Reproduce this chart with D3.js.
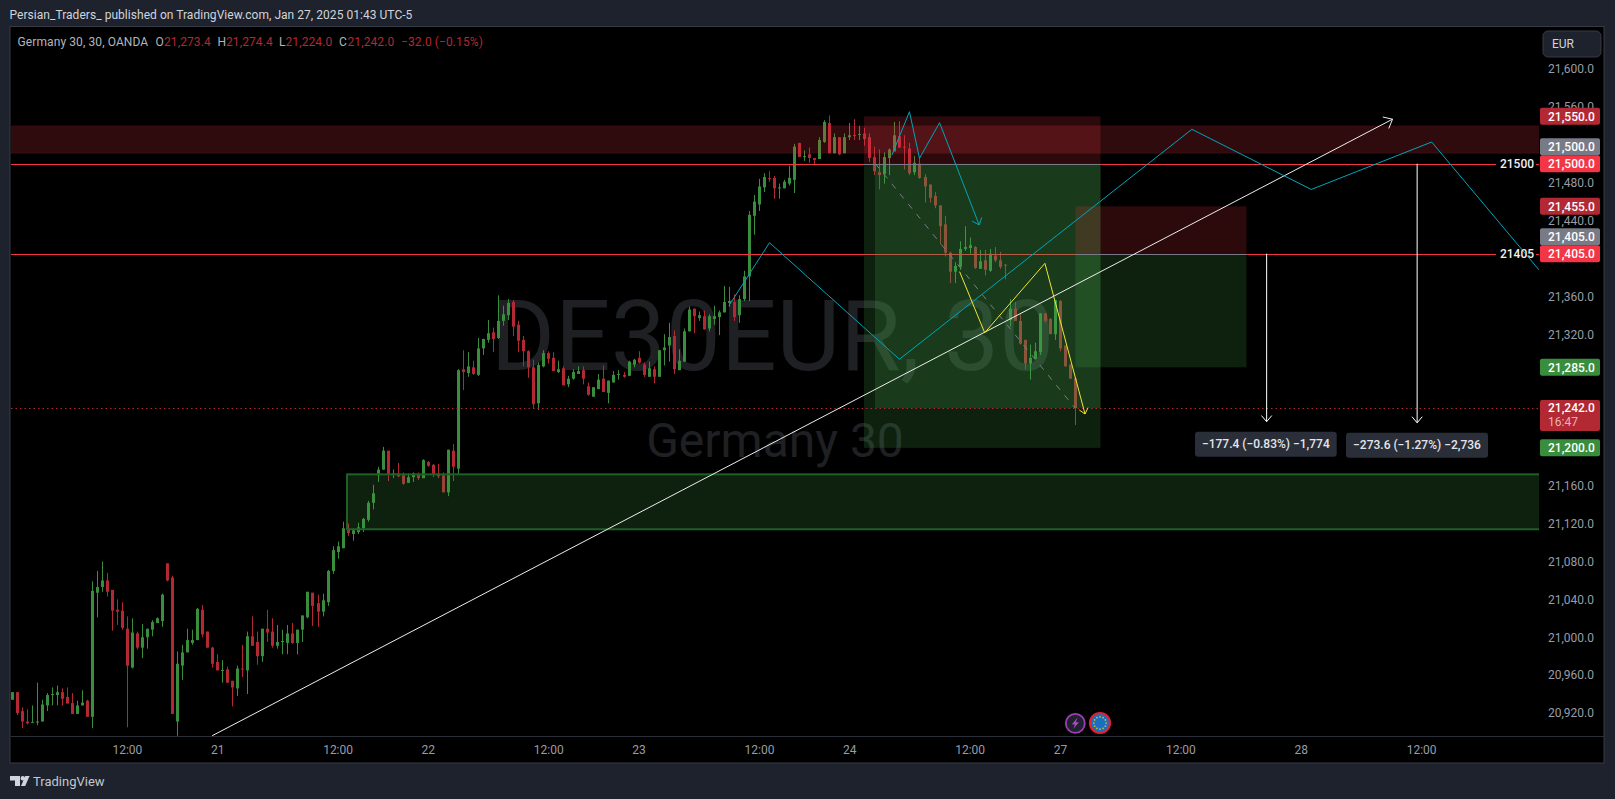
<!DOCTYPE html>
<html><head><meta charset="utf-8">
<script src="https://cdn.jsdelivr.net/npm/d3@7/dist/d3.min.js"></script>
<style>html,body{margin:0;padding:0;background:#1e222d;overflow:hidden}svg{display:block}</style>
</head><body><svg id="c" width="1615" height="799" font-family="Roboto, sans-serif"></svg>
<script>
const opens=[20934,20942,20922,20911,20910,20910.5,20911,20928,20939,20939,
20942,20937,20930.5,20919,20928,20933,20916,21047,21053,21060,
21050,21029,21028,21009,20968,21004,20989,21000,21008,21015,
21017,21078,21063,20911,20970,20984,20994,20997,21029,21006,
20989,20974,20965,20966,20954,20946,20967,20965,21001,20995,
20980,21009,21006,20991,20995,20994,21004,20994,21008,21021,
21047,21036,21027,21037,21070,21090,21094,21115,21109,21111,
21115,21124,21142,21171,21177,21197,21172,21173,21171,21163,
21169,21172,21168,21185,21182,21173,21171,21153,21197,21178,
21283,21279,21285,21277,21305,21314,21322,21316,21334,21340,
21354,21330,21314,21302,21285,21247,21286,21300,21295,21280,
21284,21267,21273,21278,21282,21265,21254,21262,21273,21258,
21269,21277,21277,21276,21288,21295,21288,21275,21283,21275,
21303,21308,21318,21282,21291,21323,21347,21337,21339,21326,
21336,21338,21343,21353,21354,21340,21357,21381,21445,21457,
21475,21485,21485,21474,21474,21479,21483,21522,21507,21510,
21506,21505,21523,21543,21511,21528,21511,21528,21530.4,21531,
21532,21528,21507,21491,21489,21506,21513,21529,21518,21516,
21491,21500,21486,21478,21466,21456,21436,21406,21386,21391,
21410,21411,21412,21389,21398,21387,21403,21398,21393.4,21335,
21347,21334,21314,21289,21294,21301,21342,21336,21320,21355,
21308,21288,21273.4];
const highs=[20942,20942,20926,20924,20928,20952,20934,20941,20947,20949,
20946,20947,20941,20933,20944,20934,21059,21070,21080,21068,
21050,21040,21037,21022,21020,21006,21014,21009,21018,21021,
21046,21078,21065,20985,20992,21009,21008,21031,21034,21006,
20990,20982,20976,20969,20954,20970,20992,21006,21022,21006,
21009,21029,21020,21013,21008,21013,21015,21008,21023,21048,
21047,21045,21046,21071,21096,21101,21122,21120,21115,21121,
21126,21144,21161,21180,21201,21197,21177,21184,21174,21173,
21174,21174,21188,21186,21183,21183,21174,21198,21204,21283,
21303,21301,21292,21316,21315,21335,21327,21361,21350,21357,
21356,21334,21318,21303,21293,21290,21303,21302,21301,21292,
21286,21276,21283,21286,21286,21269,21264,21278,21287,21271,
21281,21282,21280,21292,21294,21302,21290,21291,21286,21303,
21320,21332,21324,21304,21326,21349,21347,21344,21345,21341,
21350,21345,21371,21370,21362,21361,21387,21450,21467,21484,
21490,21492,21487,21479,21483,21498,21521,21522,21514,21517,
21506,21528,21546,21551,21532,21528,21532,21543,21547,21540,
21538,21532,21518,21515,21512,21516,21544,21545,21530,21522,
21508,21507,21489,21478,21470,21456,21445,21407,21396,21418,
21434,21422,21413,21409,21409,21410,21412,21407,21394,21357,
21354,21341,21314,21309,21311,21342,21342,21337,21356,21356,
21308,21288,21274.4];
const lows=[20934,20918,20904,20908,20910,20907,20911,20922,20928,20928,
20928,20930,20919,20919,20928,20916,20904,21021,21048,21043,
21007,21013,21008,20905,20967,20987,20978,20988,21001,21015,
21011,21059,20919,20896,20955,20984,20992,20997,21000,20989,
20968,20965,20952,20952,20927,20938,20958,20940,20991,20971,
20974,20995,20989,20988,20982,20982,20993,20982,20995,21020,
21012,21011,21022,21033,21067,21083,21094,21107,21102,21109,
21111,21122,21135,21164,21177,21165,21168,21169,21161,21163,
21164,21166,21168,21180,21169,21168,21153,21149,21165,21172,
21261,21275,21277,21276,21298,21311,21301,21315,21329,21335,
21318,21301,21286,21274,21242,21240,21285,21289,21281,21279,
21266,21264,21272,21278,21267,21255,21254,21262,21259,21247,
21269,21272,21274,21276,21285,21289,21275,21275,21268,21275,
21287,21291,21278,21282,21291,21323,21321,21334,21325,21323,
21330,21319,21343,21349,21334,21332,21355,21355,21425,21450,
21470,21481,21463,21463,21474,21477,21469,21507,21503,21501,
21499,21505,21522,21511,21511,21509,21511,21525,21525,21525,
21519,21502,21488,21473,21479,21488,21513,21517,21494,21488,
21488,21484,21459,21459,21453,21415,21402,21374,21374,21388,
21408,21405,21389,21389,21382,21386,21396,21389,21378,21328,
21334,21309,21283,21272,21294,21298,21332,21320,21314,21302,
21286,21273,21224];
const closes=[20942,20920,20911,20909,20910.4,20911,20929,20939,20940,20942,
20935,20930,20919,20928,20931,20916,21049,21053,21060,21048,
21028,21027,21010,20970,21005,20989,21000,21009,21016,21020,
21045,21060,20919,20972,20984,20997,20997,21030,21003,20989,
20972,20965,20965.4,20952,20947,20967,20966,21001,20991,20980,
21009,21005,20991,20995,20996,21004,20994,21008,21023,21048,
21033,21027,21039,21070,21092,21096,21115,21110,21113,21116,
21125,21142,21152,21177,21197,21172,21173,21170,21162,21169,
21173,21168,21187,21181,21172,21170,21153,21198,21180,21282,
21280,21286,21278,21305,21315,21321,21315,21334,21341,21353,
21328,21313,21302,21285,21246,21287.5,21300,21294,21281,21283,
21266,21273,21280,21281,21273,21256,21264,21272,21259,21271,
21277,21278,21275,21291,21293,21290,21277,21284,21275,21303,
21306,21317,21283,21292,21323,21346,21339,21340,21325,21339,
21339,21343,21354,21355,21338,21357,21381,21446,21460,21476,
21486,21484,21474,21475,21481,21485,21518,21507,21508,21506,
21504,21525,21544,21511,21528,21510,21528,21530,21530,21531.4,
21526,21506,21492,21488,21507,21515,21530,21517,21517,21490,
21501,21485,21476,21464,21456,21434,21406,21386,21392,21410,
21412,21414,21390,21397,21388,21405,21398,21391,21393,21347,
21334,21310,21289,21295,21302,21342,21334,21320,21356,21305,
21286,21273,21242];
const priceTicks=[21600,21560,21480,21440,21360,21320,21160,21120,21080,21040,21000,20960,20920];
const timeBars=[23,41,65,83,107,125,149,167,191,209,233,257,281];
const timeLabels=["12:00","21","12:00","22","12:00","23","12:00","24","12:00","27","12:00","28","12:00"];
const hLevels=[21500,21405];
const lastPrice=21242;
const resistBand=[21540,21511];
const supportBand=[21172,21114];
const cyanOne=[[143,21350],[151.1,21416.6],[177,21293.5],[235.3,21536.3],[259.1,21472.8],[283.1,21522.9],[304.5,21387.8]];
const cyanTwo=[[175.5,21509.2],[179,21554.9],[181,21505.7],[185,21543.3],[192.9,21435.3]];
const yellowPath=[[189,21386],[194,21321.5],[206,21394.8],[214,21235.7]];
const dashedPath=[[172.2,21500],[212,21242]];
const trendLine=[[40,20896],[275.3,21547]];
const measure=[{bar:250.2,from:21405,to:21227.6,text:"\u2212177.4 (\u22120.83%) \u22121,774"},{bar:280.2,from:21500,to:21226.4,text:"\u2212273.6 (\u22121.27%) \u22122,736"}];
const tagValues=[21550,21500,21500,21455,21405,21405,21285,21200];
const tagKinds=["dred","grey","red","dred","grey","red","green","green"];
const tagShift=[0,-17,0,0,-17,0,0,0];

const W=1615,H=799,pL=11,pR=1539,pT=27,pB=736;
const x=d3.scaleLinear().domain([0,212]).range([11.5,1075]);
const y=d3.scaleLinear().domain([21600,20920]).range([69,713]);
const C={bg:"#1e222d",up:"#388e3c",dn:"#b22833",red:"#f23645",grey:"#787b86",cyan:"#00a5bb",yel:"#f2e335",tick:"#999ca5",white:"#eceded"};
const svg=d3.select("#c");
svg.append("rect").attr("width",W).attr("height",H).attr("fill",C.bg);
svg.append("rect").attr("x",10).attr("y",26.5).attr("width",1594).attr("height",736.5).attr("fill","#000").attr("stroke","#363a45").attr("stroke-width",1);
svg.append("defs").append("clipPath").attr("id","plot").append("rect").attr("x",pL).attr("y",pT).attr("width",pR-pL).attr("height",pB-pT);
svg.append("text").attr("x",9.5).attr("y",19).attr("font-size",12).attr("letter-spacing",0.04).attr("fill","#d1d4dc").text("Persian_Traders_ published on TradingView.com, Jan 27, 2025 01:43 UTC-5");

const plot=svg.append("g").attr("clip-path","url(#plot)");
plot.append("text").attr("x",772.5).attr("y",370).attr("text-anchor","middle").attr("font-size",98).attr("fill","#1f2023").text("DE30EUR, 30");
plot.append("text").attr("x",775).attr("y",457).attr("text-anchor","middle").attr("font-size",48).attr("fill","#1f2023").text("Germany 30");

const idx=d3.range(opens.length);
const isUp=i=>closes[i]>=opens[i];
const cg=plot.append("g");
cg.selectAll("rect.w").data(idx).join("rect").attr("class","w").attr("x",i=>Math.round(x(i))).attr("width",1)
 .attr("y",i=>y(highs[i])).attr("height",i=>Math.max(1,y(lows[i])-y(highs[i]))).attr("fill",i=>isUp(i)?C.up:C.dn);
cg.selectAll("rect.b").data(idx).join("rect").attr("class","b").attr("x",i=>Math.round(x(i))-1).attr("width",3)
 .attr("y",i=>y(Math.max(opens[i],closes[i]))).attr("height",i=>Math.max(1,Math.abs(y(opens[i])-y(closes[i])))).attr("fill",i=>isUp(i)?C.up:C.dn);

const GF="rgba(70,165,75,0.2)",RF="rgba(242,54,69,0.18)";
function box(b0,b1,p0,p1,fill,stroke,sw){const r=plot.append("rect").attr("x",x(b0)).attr("width",x(b1)-x(b0)).attr("y",y(p0)).attr("height",y(p1)-y(p0)).attr("fill",fill);if(stroke)r.attr("stroke",stroke).attr("stroke-width",sw||1);return r;}
const xR=x.invert(pR+2);
box(x.invert(pL-2),xR,resistBand[0],resistBand[1],"rgba(242,54,69,0.2)","rgba(242,54,69,0.1)",1);
box(x.invert(347),xR,supportBand[0],supportBand[1],GF,"#1f6124",2);
hLevels.forEach(v=>{
  const ly=Math.round(y(v))+.5;
  plot.append("line").attr("x1",pL).attr("x2",1496).attr("y1",ly).attr("y2",ly).attr("stroke",C.red);
  plot.append("line").attr("x1",1536).attr("x2",pR).attr("y1",ly).attr("y2",ly).attr("stroke",C.red);
});
const p1a=x.invert(864),p1b=x.invert(1100.5),p1c=x.invert(875);
box(p1a,p1b,21550,21500,RF);
box(p1a,p1b,21500,21200,GF);
box(p1c,p1b,21500,lastPrice,GF);
const p2a=x.invert(1075.5),p2b=x.invert(1246.5);
box(p2a,p2b,21455,21405,RF);
box(p2a,p2b,21405,21285,GF);
[[p1a,p1b,21500],[p2a,p2b,21405]].forEach(d=>plot.append("line").attr("x1",x(d[0])).attr("x2",x(d[1])).attr("y1",Math.round(y(d[2]))+.5).attr("y2",Math.round(y(d[2]))+.5).attr("stroke",C.grey));
plot.append("line").attr("x1",pL).attr("x2",pR).attr("y1",Math.round(y(lastPrice))+.5).attr("y2",Math.round(y(lastPrice))+.5).attr("stroke",C.dn).attr("stroke-dasharray","1.5 3");

const lg=d3.line().x(d=>x(d[0])).y(d=>y(d[1]));
function pathOf(pts,color,w,arrow,barb,dash){
  const p=plot.append("path").attr("d",lg(pts)).attr("fill","none").attr("stroke",color).attr("stroke-width",w||1);
  if(dash)p.attr("stroke-dasharray",dash);
  if(arrow){const n=pts.length,ax=x(pts[n-1][0]),ay=y(pts[n-1][1]),bx=x(pts[n-2][0]),by=y(pts[n-2][1]),a=Math.atan2(by-ay,bx-ax),L=barb||8;
    [a+.7,a-.7].forEach(t=>plot.append("line").attr("x1",ax).attr("y1",ay).attr("x2",ax+L*Math.cos(t)).attr("y2",ay+L*Math.sin(t)).attr("stroke",color).attr("stroke-width",w||1));}
}
pathOf(dashedPath,C.grey,1,false,0,"6 7");
pathOf(trendLine,C.white,1,true,10);
pathOf(cyanOne,C.cyan,1);
pathOf(cyanTwo,C.cyan,1,true,8);
pathOf(yellowPath,C.yel,1,true,7);
measure.forEach(m=>pathOf([[m.bar,m.from],[m.bar,m.to]],"#ffffff",1,true,8));
hLevels.forEach(v=>svg.append("text").attr("x",1517).attr("y",y(v)+.5).attr("dy",".35em").attr("text-anchor","middle").attr("font-size",12).attr("font-weight",500).attr("fill","#f0f1f3").text(v));

[[1195,431.7,141.7],[1346,432.7,142]].forEach((b,i)=>{
  svg.append("rect").attr("x",b[0]).attr("y",b[1]).attr("width",b[2]).attr("height",25).attr("rx",3).attr("fill","#2a2e39");
  svg.append("text").attr("x",b[0]+b[2]/2).attr("y",b[1]+12.5).attr("dy",".35em").attr("text-anchor","middle").attr("font-size",12).attr("font-weight",500).attr("fill","#e4e6ea").text(measure[i].text);
});

const yAxis=d3.axisRight(y).tickValues(priceTicks).tickSize(0).tickPadding(0).tickFormat(d3.format(",.1f"));
const ya=svg.append("g").attr("transform","translate(1548,0)").call(yAxis);
ya.select(".domain").remove();
ya.attr("font-family",null);
ya.selectAll("text").attr("font-size",12).attr("fill",C.tick);
const xAxis=d3.axisBottom(x).tickValues(timeBars).tickSize(0).tickPadding(9).tickFormat((d,i)=>timeLabels[i]);
const xa=svg.append("g").attr("transform","translate(0,736)").call(xAxis);
xa.select(".domain").remove();
xa.attr("font-family",null);
xa.selectAll("text").attr("font-size",12).attr("fill",C.tick);
svg.append("line").attr("x1",11).attr("x2",1604).attr("y1",736.5).attr("y2",736.5).attr("stroke","#2a2e39");

const tagFill={dred:C.dn,grey:C.grey,red:C.red,green:C.up};
tagValues.forEach((v,i)=>{
  const cy=y(v)+tagShift[i];
  svg.append("rect").attr("x",1540).attr("y",cy-8.5).attr("width",60).attr("height",17).attr("rx",2).attr("fill",tagFill[tagKinds[i]]);
  svg.append("text").attr("x",1548).attr("y",cy).attr("dy",".35em").attr("font-size",12).attr("font-weight",500).attr("fill","#fff").text(d3.format(",.1f")(v));
});
const ly=y(lastPrice);
svg.append("rect").attr("x",1540).attr("y",ly-8).attr("width",60).attr("height",31).attr("rx",2).attr("fill",C.dn);
svg.append("text").attr("x",1548).attr("y",ly).attr("dy",".35em").attr("font-size",12).attr("font-weight",500).attr("fill","#fff").text(d3.format(",.1f")(lastPrice));
svg.append("text").attr("x",1548).attr("y",ly+14).attr("dy",".35em").attr("font-size",12).attr("fill","#e9b4b9").text("16:47");

svg.append("rect").attr("x",1543).attr("y",31).attr("width",58).attr("height",26).attr("rx",5).attr("fill",C.bg).attr("stroke","#363a45");
svg.append("text").attr("x",1552).attr("y",44).attr("dy",".35em").attr("font-size",12).attr("fill","#d1d4dc").text("EUR");

const legendX=[17.5,155.5,164,217.5,226,279,285.5,339,347.5,401];
const legendText=["Germany 30, 30, OANDA","O","21,273.4","H","21,274.4","L","21,224.0","C","21,242.0","\u221232.0 (\u22120.15%)"];
const legendFill=["#b2b5be","#b2b5be",C.dn,"#b2b5be",C.dn,"#b2b5be",C.dn,"#b2b5be",C.dn,C.dn];
legendText.forEach((t,i)=>svg.append("text").attr("x",legendX[i]).attr("y",42).attr("dy",".35em").attr("font-size",12).attr("letter-spacing",0.1).attr("fill",legendFill[i]).text(t));

const ic=svg.append("g");
ic.append("circle").attr("cx",1075.3).attr("cy",723.3).attr("r",9.5).attr("fill","#1e222d").attr("stroke","#9c3fb3").attr("stroke-width",1.8);
ic.append("path").attr("d","M1077.5 717.5 L1071.8 724.5 L1075 724.5 L1073.2 729 L1079 722.3 L1075.8 722.3 Z").attr("fill","#a94cc0");
ic.append("circle").attr("cx",1100).attr("cy",723).attr("r",10).attr("fill","#1a6fc0").attr("stroke","#e0232f").attr("stroke-width",2.2);
d3.range(12).forEach(k=>{const a=k*Math.PI/6;ic.append("circle").attr("cx",1100+6.2*Math.cos(a)).attr("cy",723+6.2*Math.sin(a)).attr("r",.85).attr("fill","#c8c23a");});

const lo=svg.append("g").attr("fill","#d1d4dc");
lo.append("path").attr("d","M10 776 H20 V786 H15 V780.5 H10 Z");
lo.append("circle").attr("cx",22.8).attr("cy",778.2).attr("r",2.2);
lo.append("path").attr("d","M25.3 776 H29.6 L25.2 786 H21 Z");
svg.append("text").attr("x",33).attr("y",786).attr("font-size",13).attr("fill","#c4c7cf").text("TradingView");
</script>
</body></html>
